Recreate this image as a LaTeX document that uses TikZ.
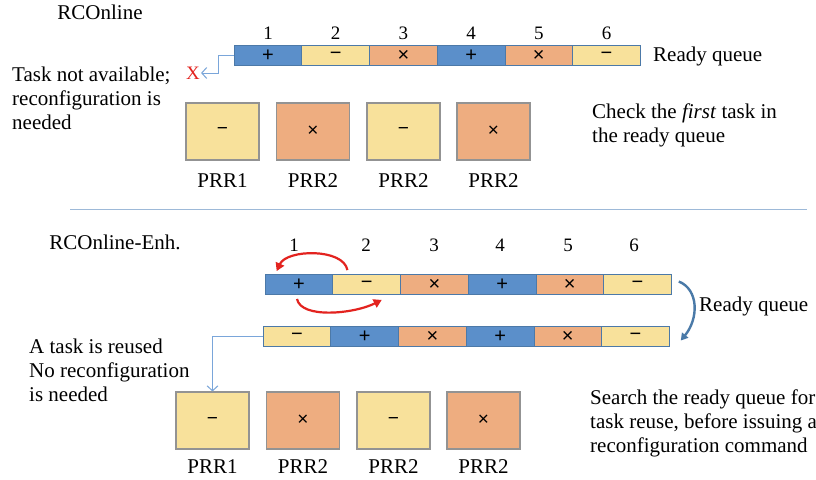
\documentclass[tikz,border=0pt]{standalone}
\usepackage{fontspec}
\setmainfont{Liberation Serif}
\newfontfamily\symfont{Liberation Sans}
\usetikzlibrary{arrows.meta}
\definecolor{qblue}{HTML}{5B8FCA}
\definecolor{qyellow}{HTML}{F8E19B}
\definecolor{qorange}{HTML}{EEAD80}
\definecolor{qedge}{HTML}{4C79A8}
\definecolor{lnblue}{HTML}{7AA6DA}
\definecolor{arcred}{HTML}{E3231F}
\definecolor{turnblue}{HTML}{4A7AA8}
\definecolor{sepblue}{HTML}{9DB9D8}
\tikzset{
  cell/.style={draw=qedge, line width=0.9pt, minimum width=67.7pt, minimum height=20pt,
    inner sep=0pt, font=\symfont\fontsize{20}{20}\selectfont},
  plus/.style={cell, fill=qblue},
  minus/.style={cell, fill=qyellow},
  times/.style={cell, fill=qorange},
  prr/.style={draw=gray!85, line width=1.1pt, minimum width=73pt, minimum height=57pt,
    inner sep=0pt, font=\symfont\fontsize{19}{19}\selectfont},
  txt/.style={font=\fontsize{21}{24}\selectfont, inner sep=0pt},
  num/.style={font=\fontsize{19}{19}\selectfont, inner sep=0pt},
  conn/.style={draw=lnblue, line width=1pt, -{Straight Barb[length=5pt,width=11pt]}},
  swap/.style={draw=arcred, line width=2.2pt, -{Triangle[length=8pt,width=9pt]}},
}
\begin{document}
\begin{tikzpicture}[x=1pt,y=-1pt]
\useasboundingbox[fill=white] (0,0) rectangle (816,479);

% ---------- RCOnline ----------
\node[txt] (t1) at (100,12) {RCOnline};
\foreach \i/\x in {1/268,2/335.7,3/403.4,4/471.1,5/538.8,6/606.5}
  \node[num] (n\i) at (\x,33) {\i};
\node[plus]  (a1) at (268,55.5) {+};
\node[minus] (a2) at (335.7,55.5) {−};
\node[times] (a3) at (403.4,55.5) {×};
\node[plus]  (a4) at (471.1,55.5) {+};
\node[times] (a5) at (538.8,55.5) {×};
\node[minus] (a6) at (606.5,55.5) {−};
\node[txt, anchor=west] (rq1) at (653,56) {Ready queue};
\node[font=\fontsize{19}{19}\selectfont, text=arcred, inner sep=1pt] (xm) at (193,73) {X};
\draw[conn] (a1.west) -- ++(-15,0) |- (xm.east);
\node[txt, anchor=north west, align=left] (na) at (12,67) {Task not available;\\reconfiguration is\\needed};
\node[txt, anchor=north west, align=left] (chk) at (592,104) {Check the \textit{first} task in\\the ready queue};

\node[prr, fill=qyellow] (p1) at (222.5,131.5) {−};
\node[prr, fill=qorange] (p2) at (313,131.5) {×};
\node[prr, fill=qyellow] (p3) at (403.5,131.5) {−};
\node[prr, fill=qorange] (p4) at (493.5,131.5) {×};
\node[txt] (l1) at (222.5,181) {PRR1};
\node[txt] (l2) at (313,181) {PRR2};
\node[txt] (l3) at (403.5,181) {PRR2};
\node[txt] (l4) at (493.5,181) {PRR2};

% separator
\coordinate (s1) at (70,209);
\coordinate (s2) at (807,209);
\draw[sepblue, line width=1pt] (s1) -- (s2);

% ---------- RCOnline-Enh. ----------
\node[txt] (t2) at (115,242) {RCOnline-Enh.};
\foreach \i/\x in {1/294,2/366,3/434,4/500,5/568,6/634}
  \node[num] (m\i) at (\x,245) {\i};
\node[plus]  (b1) at (299,284.5) {+};
\node[minus] (b2) at (366.7,284.5) {−};
\node[times] (b3) at (434.4,284.5) {×};
\node[plus]  (b4) at (502.1,284.5) {+};
\node[times] (b5) at (569.8,284.5) {×};
\node[minus] (b6) at (637.5,284.5) {−};

\node[minus] (c1) at (297,336.5) {−};
\node[plus]  (c2) at (364.7,336.5) {+};
\node[times] (c3) at (432.4,336.5) {×};
\node[plus]  (c4) at (500.1,336.5) {+};
\node[times] (c5) at (567.8,336.5) {×};
\node[minus] (c6) at (635.5,336.5) {−};

% swap arcs
\draw[swap] ([shift={(15,-4)}]b2.north west) .. controls +(-4,-22) and +(10,-22) .. ([shift={(12,-3)}]b1.north west);
\draw[swap] ([shift={(-2,4)}]b1.south) .. controls +(4,20) and +(-28,14) .. ([shift={(15,5)}]b2.south);

% queue transition arrow
\draw[turnblue, line width=2.4pt, -{Triangle[length=7pt,width=8pt]}]
  ([shift={(7,-3)}]b6.east) .. controls +(20,8) and +(18,-22) .. ([shift={(11,4)}]c6.east);
\node[txt, anchor=west] (rq2) at (699,306) {Ready queue};

\node[txt, anchor=north west, align=left] (ru) at (29,339) {A task is reused\\No reconfiguration\\is needed};

\node[prr, fill=qyellow] (d1) at (212.5,420.5) {−};
\node[prr, fill=qorange] (d2) at (303,420.5) {×};
\node[prr, fill=qyellow] (d3) at (393.5,420.5) {−};
\node[prr, fill=qorange] (d4) at (483.5,420.5) {×};
\node[txt] (k1) at (212.5,467) {PRR1};
\node[txt] (k2) at (303,467) {PRR2};
\node[txt] (k3) at (393.5,467) {PRR2};
\node[txt] (k4) at (483.5,467) {PRR2};

\draw[conn] (c1.west) -| (d1.north);

\node[txt, anchor=north west, align=left] (srch) at (590,390) {Search the ready queue for\\task reuse, before issuing a\\reconfiguration command};
\end{tikzpicture}
\end{document}
